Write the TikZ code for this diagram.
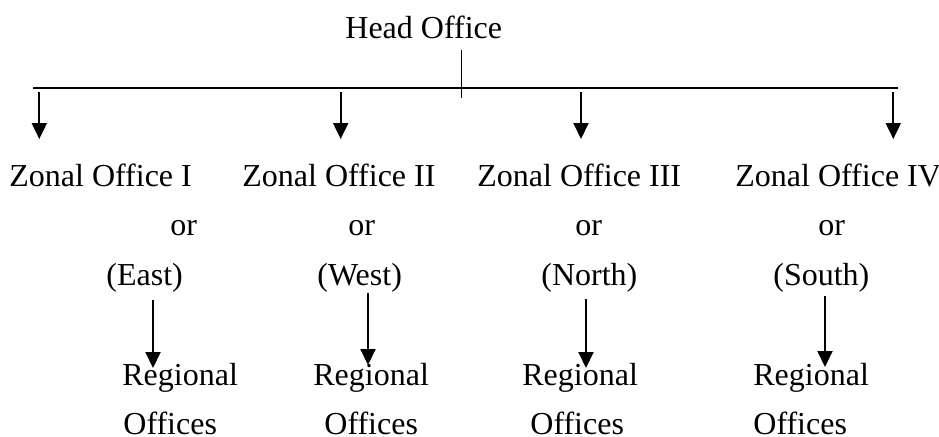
\documentclass[tikz,border=0pt]{standalone}
\usepackage{fontspec}
\setmainfont{Liberation Serif}
\usetikzlibrary{arrows.meta}
\begin{document}
\begin{tikzpicture}[x=0.5pt,y=-0.5pt,
  lbl/.style={anchor=base west,inner sep=0pt,font=\fontsize{16}{19}\selectfont},
  bus/.style={line width=1pt},
  arr/.style={line width=1pt,-{Triangle[width=7.5pt,length=8pt]}},
  stem/.style={line width=0.7pt}]
\useasboundingbox (0,0) rectangle (939,436);
% texts
\node[lbl] (head) at (345,38) {Head Office};
\node[lbl] (z1) at (9,186) {Zonal Office I};
\node[lbl] (z2) at (242,186) {Zonal Office II};
\node[lbl] (z3) at (477,186) {Zonal Office III};
\node[lbl] (z4) at (735,186) {Zonal Office IV};
\node[lbl] (or1) at (170,235) {or};
\node[lbl] (or2) at (348,235) {or};
\node[lbl] (or3) at (575,235) {or};
\node[lbl] (or4) at (818,235) {or};
\node[lbl] (d1) at (106,285) {(East)};
\node[lbl] (d2) at (317,285) {(West)};
\node[lbl] (d3) at (541,285) {(North)};
\node[lbl] (d4) at (773,285) {(South)};
\node[lbl] (r1) at (122,385) {Regional};
\node[lbl] (r2) at (313,385) {Regional};
\node[lbl] (r3) at (522,385) {Regional};
\node[lbl] (r4) at (753,385) {Regional};
\node[lbl] (o1) at (123,434) {Offices};
\node[lbl] (o2) at (324,434) {Offices};
\node[lbl] (o3) at (530,434) {Offices};
\node[lbl] (o4) at (753,434) {Offices};
% bus
\coordinate (hs) at (461.7,50);
\coordinate (he) at (461.7,98);
\coordinate (bl) at (33,87.7);
\coordinate (br) at (898,87.7);
\draw[stem] (hs) -- (he);
\draw[bus] (bl) -- (br);
% top arrows
\coordinate (a1s) at (39.3,92); \coordinate (a1e) at (39.3,139);
\coordinate (a2s) at (340.7,92); \coordinate (a2e) at (340.7,139);
\coordinate (a3s) at (581,92); \coordinate (a3e) at (581,139);
\coordinate (a4s) at (893.3,92); \coordinate (a4e) at (893.3,139);
\draw[arr] (a1s) -- (a1e);
\draw[arr] (a2s) -- (a2e);
\draw[arr] (a3s) -- (a3e);
\draw[arr] (a4s) -- (a4e);
% lower arrows
\coordinate (b1s) at (153,300); \coordinate (b1e) at (153,368);
\coordinate (b2s) at (368,293); \coordinate (b2e) at (368,365);
\coordinate (b3s) at (586,299); \coordinate (b3e) at (586,368);
\coordinate (b4s) at (825,296); \coordinate (b4e) at (825,367);
\draw[arr] (b1s) -- (b1e);
\draw[arr] (b2s) -- (b2e);
\draw[arr] (b3s) -- (b3e);
\draw[arr] (b4s) -- (b4e);
\end{tikzpicture}
\end{document}
